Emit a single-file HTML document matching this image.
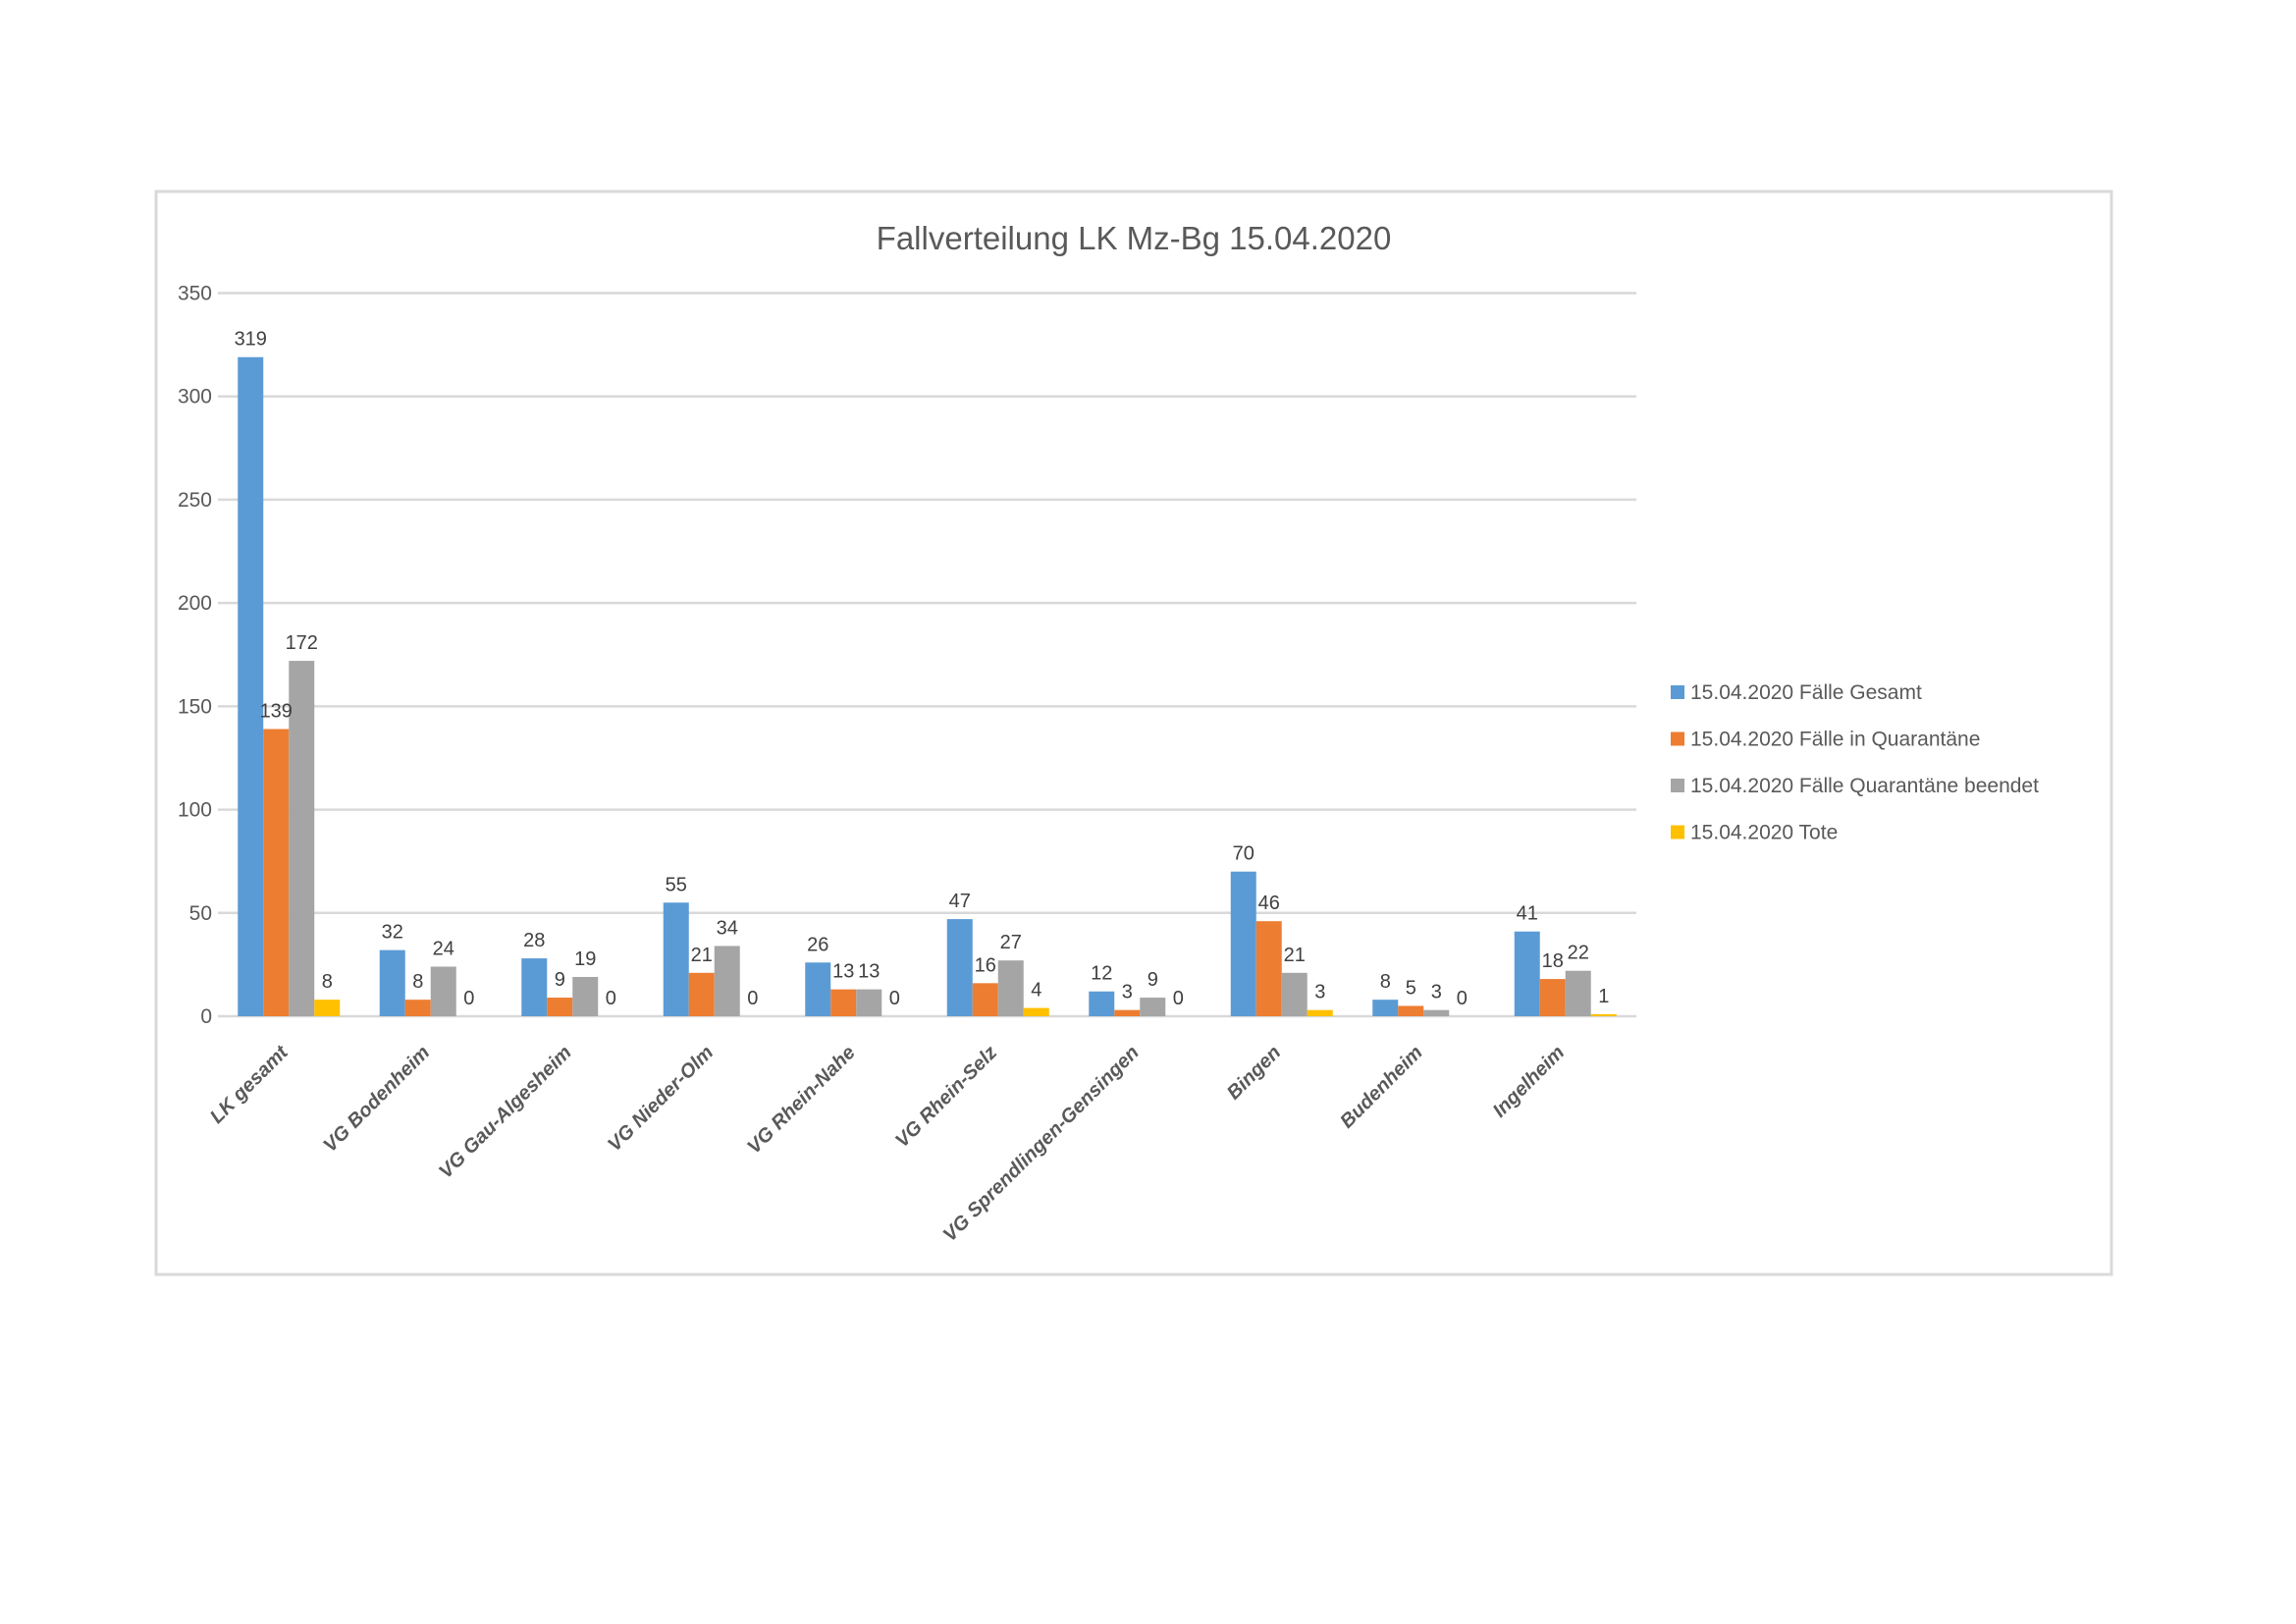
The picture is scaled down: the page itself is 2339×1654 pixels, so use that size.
<!DOCTYPE html>
<html><head><meta charset="utf-8"><style>
html,body{margin:0;padding:0;background:#fff;}
svg{display:block;font-family:"Liberation Sans",sans-serif;}
</style></head><body>
<svg id="chart" width="2339" height="1654" viewBox="0 0 2339 1654" xmlns="http://www.w3.org/2000/svg">
<rect x="159" y="195" width="1992" height="1103" fill="#fff" stroke="#d9d9d9" stroke-width="3"/>
<text x="1155" y="254" text-anchor="middle" font-size="33" fill="#595959">Fallverteilung LK Mz-Bg 15.04.2020</text>
<g id="grid"></g><g id="bars"></g><g id="labels"></g><g id="legend"></g>
</svg>
<script>
const categories=["LK gesamt","VG Bodenheim","VG Gau-Algesheim","VG Nieder-Olm","VG Rhein-Nahe","VG Rhein-Selz","VG Sprendlingen-Gensingen","Bingen","Budenheim","Ingelheim"];
const seriesNames=["15.04.2020 Fälle Gesamt","15.04.2020 Fälle in Quarantäne","15.04.2020 Fälle Quarantäne beendet","15.04.2020 Tote"];
const gesamt=[319,32,28,55,26,47,12,70,8,41];
const quarantaene=[139,8,9,21,13,16,3,46,5,18];
const beendet=[172,24,19,34,13,27,9,21,3,22];
const tote=[8,0,0,0,0,4,0,3,0,1];
const yTicks=[0,50,100,150,200,250,300,350];
const series=[gesamt,quarantaene,beendet,tote];
const colors=["#5B9BD5","#ED7D31","#A5A5A5","#FFC000"];
const NS="http://www.w3.org/2000/svg";
const X0=222,X1=1667,Y0=1035,Y1=298.5,YMAX=350;
const y=v=>Y0-(v/YMAX)*(Y0-Y1);
const catW=(X1-X0)/categories.length, barW=26;
const x=(i,s)=>X0+catW*i+catW/2-2*barW+s*barW;
function mk(tag,attrs,parent){const e=document.createElementNS(NS,tag);for(const k in attrs)e.setAttribute(k,attrs[k]);parent.appendChild(e);return e;}
const grid=document.getElementById('grid'),bars=document.getElementById('bars'),labels=document.getElementById('labels'),legend=document.getElementById('legend');
yTicks.forEach(t=>{
 const l=mk('line',{x1:X0,x2:X1,y1:y(t),y2:y(t),stroke:'#d9d9d9','stroke-width':2.5},grid);
 
 
 const tx=mk('text',{x:216,y:y(t)+7,'text-anchor':'end','font-size':21,fill:'#595959'},grid);
 tx.textContent=t;
 
 
});
series.forEach((arr,s)=>{
 arr.forEach((v,i)=>{
  const r=mk('rect',{x:x(i,s),y:y(v),width:barW,height:Math.max(Y0-y(v),0),fill:colors[s]},bars);
  
  
  const t=mk('text',{x:x(i,s)+barW/2,y:y(v)-12,'text-anchor':'middle','font-size':20,fill:'#404040'},labels);
  t.textContent=v;
  
  
 });
});
categories.forEach((c,i)=>{
 const cx=X0+catW*i+catW/2;
 const t=mk('text',{x:cx,y:Y0+38,'text-anchor':'end','font-size':20,'font-weight':'bold','font-style':'italic',fill:'#595959',transform:`rotate(-45 ${cx} ${Y0+38})`},labels);
 t.textContent=c;
 
 
});
seriesNames.forEach((n,s)=>{
 const yy=712+s*47.5;
 const g=mk('g',{},legend);
 
 
 mk('rect',{x:1702,y:yy-14,width:14,height:14,fill:colors[s]},g);
 const t=mk('text',{x:1722,y:yy,'font-size':21,fill:'#595959'},g);
 t.textContent=n;
});
</script>
</body></html>
